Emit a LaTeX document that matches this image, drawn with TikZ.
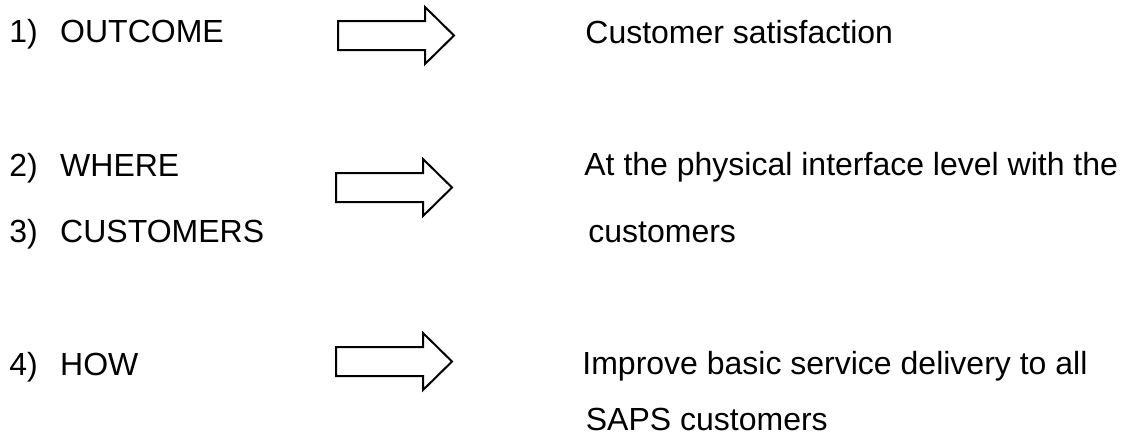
\documentclass[tikz,border=0pt]{standalone}
\usepackage{fontspec}
\setmainfont{Liberation Sans}
\usepackage{tikz}
\usetikzlibrary{positioning,calc}

\tikzset{
    txt/.style={anchor=base west, inner sep=0pt, font=\fontsize{16}{19.2}\selectfont},
    fatarrow/.style={draw, line width=1pt, fill=white}
}

\begin{document}
\begin{tikzpicture}[x=0.5pt, y=-0.5pt]
    \useasboundingbox (0,0) rectangle (1125,447);

    % left column
    \node[txt] (outcome) at (9,42) {1)\hspace{0.7em}OUTCOME};
    \node[txt] (where) at (9,176) {2)\hspace{0.7em}WHERE};
    \node[txt] (cust) at (9,242) {3)\hspace{0.7em}CUSTOMERS};
    \node[txt] (how) at (9,375) {4)\hspace{0.7em}HOW};

    % block arrows (left end, middle height)
    \foreach \ax/\ay in {338/35.5, 336/187.5, 336/361.5}
        \draw[fatarrow] (\ax,\ay-14.5) -- ++(87,0) -- ++(0,-14) -- (\ax+116,\ay)
            -- (\ax+87,\ay+28.5) -- ++(0,-14) -- (\ax,\ay+14.5) -- cycle;

    % right column
    \node[txt] (satis) at (585,43) {Customer satisfaction};
    \node[txt] (iface) at (584,175) {At the physical interface level with the};
    \node[txt] (iface2) at (588,242) {customers};
    \node[txt] (improve) at (582,374) {Improve basic service delivery to all};
    \node[txt] (improve2) at (585.5,430) {SAPS customers};
\end{tikzpicture}
\end{document}
